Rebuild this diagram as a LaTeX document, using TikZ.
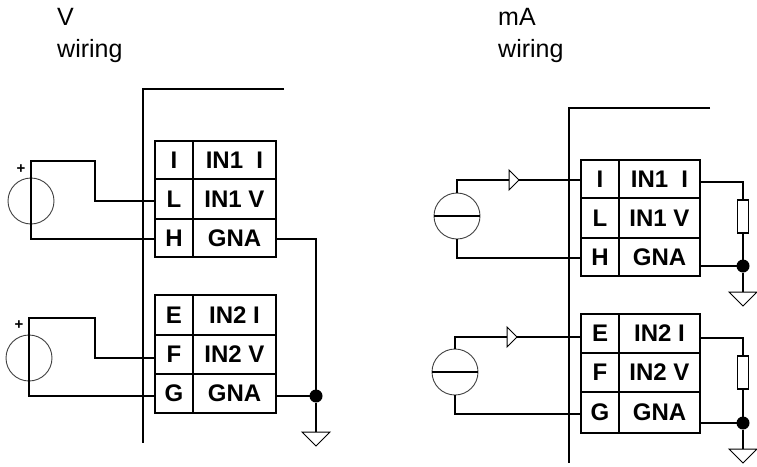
\documentclass[tikz,border=0pt]{standalone}
\usepackage{fontspec}
\setmainfont{Liberation Sans}
\tikzset{
  wire/.style={line width=1.2pt},
  pinbox/.style={draw, line width=1.2pt, inner sep=0pt, outer sep=0pt, minimum width=#1, font=\fontsize{24}{24}\selectfont\bfseries},
  source/.style={draw=black!75, circle, line width=.9pt, inner sep=0pt, outer sep=0pt, minimum size=46pt},
  load/.style={draw, line width=1.2pt, inner sep=0pt, outer sep=0pt, minimum width=11pt, minimum height=33pt},
  joint/.style={fill, circle, inner sep=0pt, outer sep=0pt, minimum size=13pt},
  polarity/.style={inner sep=0pt, font=\fontsize{15}{15}\selectfont\bfseries},
  title/.style={anchor=base west, align=left, inner sep=0pt, font=\fontsize{25}{32}\selectfont},
  gnd/.pic={\draw[line width=1pt] (-14,0) -- (14,0) -- (0,14) -- cycle;},
  flag/.pic={\draw[line width=1pt, fill=white] (-5,-10) -- (5,0) -- (-5,10) -- cycle;}
}
\begin{document}
\begin{tikzpicture}[x=1pt,y=-1pt]
  \useasboundingbox (0,0) rectangle (757,466);

  % titles
  \node[title] (tV) at (57,57) {V\\wiring};
  \node[title] (tA) at (498,57) {mA\\wiring};

  % V wiring
  \coordinate (P1a) at (284,89);
  \coordinate (P1b) at (143,89);
  \coordinate (P1c) at (143,443);
  \draw[wire] (P1a) -- (P1b) -- (P1c);

  \node[pinbox=38pt, minimum height=38pt] (I1) at (174,160) {I};
  \node[pinbox=83pt, minimum height=38pt] (N1) at (234.5,160) {IN1\ \ I};
  \node[pinbox=38pt, minimum height=40pt] (L1) at (174,199) {L};
  \node[pinbox=83pt, minimum height=40pt] (V1) at (234.5,199) {IN1 V};
  \node[pinbox=38pt, minimum height=38pt] (H1) at (174,238) {H};
  \node[pinbox=83pt, minimum height=38pt] (A1) at (234.5,238) {GNA};

  \node[pinbox=38pt, minimum height=40pt] (E1) at (174,315) {E};
  \node[pinbox=83pt, minimum height=40pt] (N2) at (234.5,315) {IN2 I};
  \node[pinbox=38pt, minimum height=39pt] (F1) at (174,354.5) {F};
  \node[pinbox=83pt, minimum height=39pt] (V2) at (234.5,354.5) {IN2 V};
  \node[pinbox=38pt, minimum height=39pt] (G1) at (174,393.5) {G};
  \node[pinbox=83pt, minimum height=39pt] (A2) at (234.5,393.5) {GNA};

  \node[source] (S1) at (31,201) {};
  \node[source] (S2) at (29,358) {};
  \node[polarity] at (21,169) (p1) {+};
  \node[polarity] at (19,325) (p2) {+};

  \coordinate (T1) at (95,161);
  \coordinate (T2) at (95,318);
  \draw[wire] ([yshift=-2pt]L1.west) -| (T1) -| (S1.south) |- ([yshift=-1pt]H1.west);
  \draw[wire] ([yshift=-3.5pt]F1.west) -| (T2) -| (S2.south) |- ([yshift=-2.5pt]G1.west);

  \node[joint] (J1) at (316,396) {};
  \coordinate (C1) at (316,432);
  \draw[wire] ([yshift=-1pt]A1.east) -| (J1.north);
  \draw[wire] ([yshift=-2.5pt]A2.east) -- (J1.west);
  \draw[wire] (J1.south) -- (C1);
  \pic at (C1) {gnd};

  % mA wiring
  \coordinate (P2a) at (710,108);
  \coordinate (P2b) at (569,108);
  \coordinate (P2c) at (569,463);
  \draw[wire] (P2a) -- (P2b) -- (P2c);

  \node[pinbox=38pt, minimum height=38pt] (I3) at (600,179) {I};
  \node[pinbox=81pt, minimum height=38pt] (N3) at (659.5,179) {IN1\ \ I};
  \node[pinbox=38pt, minimum height=40pt] (L3) at (600,218) {L};
  \node[pinbox=81pt, minimum height=40pt] (V3) at (659.5,218) {IN1 V};
  \node[pinbox=38pt, minimum height=38pt] (H3) at (600,257) {H};
  \node[pinbox=81pt, minimum height=38pt] (A3) at (659.5,257) {GNA};

  \node[pinbox=38pt, minimum height=39pt] (E4) at (600,333.5) {E};
  \node[pinbox=81pt, minimum height=39pt] (N4) at (659.5,333.5) {IN2 I};
  \node[pinbox=38pt, minimum height=39pt] (F4) at (600,372.5) {F};
  \node[pinbox=81pt, minimum height=39pt] (V4) at (659.5,372.5) {IN2 V};
  \node[pinbox=38pt, minimum height=41pt] (G4) at (600,412.5) {G};
  \node[pinbox=81pt, minimum height=41pt] (A4) at (659.5,412.5) {GNA};

  \node[source] (S3) at (457,216) {};
  \node[source] (S4) at (455,372) {};
  \draw[wire] (S3.west) -- (S3.east);
  \draw[wire] (S4.west) -- (S4.east);

  \draw[wire] (S3.north) |- ([yshift=-1pt]I3.west);
  \draw[wire] (S3.south) |- ([yshift=-1pt]H3.west);
  \draw[wire] (S4.north) |- ([yshift=-3.5pt]E4.west);
  \draw[wire] (S4.south) |- ([yshift=-1.5pt]G4.west);
  \pic at (514,180) {flag};
  \pic at (512,337) {flag};

  \node[load] (R3) at (743,216.5) {};
  \node[load] (R4) at (743,372.5) {};
  \node[joint] (J3) at (743,266) {};
  \node[joint] (J4) at (743,423) {};
  \coordinate (C3) at (743,292);
  \coordinate (C4) at (743,449);
  \draw[wire] ([yshift=-3pt]N3.east) -| (R3.north);
  \draw[wire] ([yshift=-4.5pt]N4.east) -| (R4.north);
  \draw[wire] (R3.south) -- (J3.north);
  \draw[wire] (R4.south) -- (J4.north);
  \draw[wire] ([yshift=-9pt]A3.east) -- (J3.west);
  \draw[wire] ([yshift=-10.5pt]A4.east) -- (J4.west);
  \draw[wire] (J3.south) -- (C3);
  \draw[wire] (J4.south) -- (C4);
  \pic at (C3) {gnd};
  \pic at (C4) {gnd};
\end{tikzpicture}
\end{document}
